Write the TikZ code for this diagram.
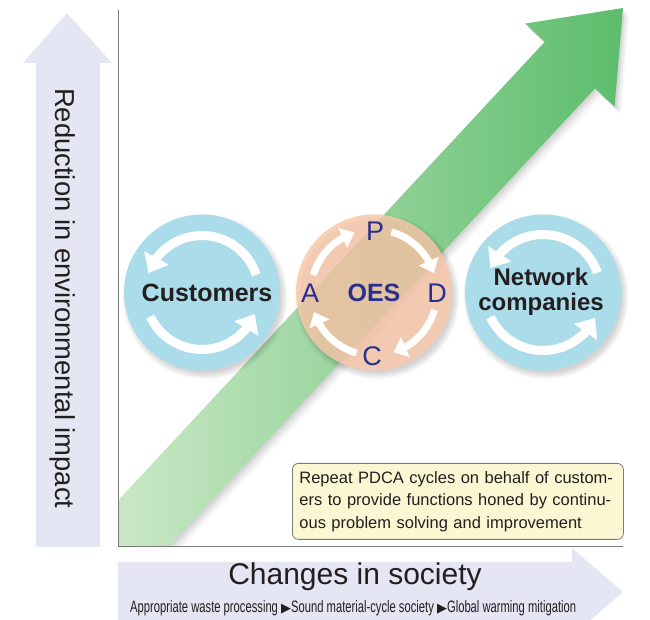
\documentclass[tikz,border=0pt]{standalone}
\usepackage{fontspec}
\usepackage{graphicx}
\setmainfont{Liberation Sans}
\newfontfamily\symfont{DejaVu Sans}
\usetikzlibrary{arrows.meta,bending,calc}
\definecolor{lav}{HTML}{E5E6F4}
\definecolor{cblue}{HTML}{ABDCE9}
\definecolor{peach}{HTML}{F9C9AA}
\definecolor{gdark}{HTML}{5CBD6C}
\definecolor{gmid}{HTML}{92D290}
\definecolor{glight}{HTML}{D8EDD2}
\definecolor{dblue}{HTML}{2B2E8C}
\definecolor{txt}{HTML}{231F20}
\definecolor{boxfill}{HTML}{FBF7D3}
\definecolor{axisgray}{HTML}{7A7A7A}
\begin{document}
\begin{tikzpicture}[x=1pt,y=1pt,
  bigcirc/.style={circle, minimum size=156pt, inner sep=0pt},
  cyc/.style={white, line width=9pt, -{Triangle[width=27pt,length=17pt]}},
  pdca/.style={white, line width=7pt, -{Triangle[width=21pt,length=13pt]}},
  letter/.style={text=dblue, font=\fontsize{27}{27}\selectfont, inner sep=0pt},
  boldlbl/.style={text=txt, font=\bfseries\fontsize{25}{25}\selectfont, inner sep=0pt},
]
\useasboundingbox (0,0) rectangle (650,620);

% vertical axis arrow
\fill[lav] (36,73) -- (36,557) -- (23,557) -- (67,607) -- (112,557) -- (100,557) -- (100,73) -- cycle;
\node[rotate=-90, anchor=base west, font=\fontsize{27.4}{30}\selectfont, text=txt, inner sep=0pt] (ylabel) at (55,532) {Reduction in environmental impact};

% horizontal axis arrow
\begin{scope}
\clip (0,0) rectangle (650,620);
\fill[lav] (118,58) -- (572,58) -- (572,72) -- (623,28) -- (572,-16) -- (572,-2) -- (118,-2) -- cycle;
\end{scope}
\node[anchor=base, font=\fontsize{30}{31}\selectfont, text=txt, inner sep=0pt] (xlabel) at (355,35) {Changes in society};
\node[anchor=base west, inner sep=0pt, text=txt, font=\fontsize{16.5}{16.5}\selectfont] (xsub) at (130,7)
  {\scalebox{0.68}[1]{Appropriate waste processing }{\symfont\fontsize{13}{13}\selectfont ▶}\scalebox{0.68}[1]{Sound material-cycle society }{\symfont\fontsize{13}{13}\selectfont ▶}\scalebox{0.68}[1]{Global warming mitigation}};

% green arrow
\begin{scope}
\clip (119,74) rectangle (650,620);
\foreach \o/\a in {2/0.06, 4/0.05, 6/0.04, 8/0.03}{
  \fill[black, opacity=\a] ($(54.5,51.2)+(\o*0.8,-\o)$) -- ($(544.8,578.2)+(\o*0.8,-\o)$) -- ($(525.2,596.4)+(\o*0.8,-\o)$) -- ($(623,612)+(\o*0.8,-\o)$) -- ($(614.6,513.4)+(\o*0.8,-\o)$) -- ($(595.0,531.6)+(\o*0.8,-\o)$) -- ($(104.7,4.6)+(\o*0.8,-\o)$) -- cycle;
}
\shade[left color=glight, middle color=gmid, right color=gdark]
  (54.5,51.2) -- (544.8,578.2) -- (525.2,596.4) -- (623,612) -- (614.6,513.4) -- (595.0,531.6) -- (104.7,4.6) -- cycle;
\end{scope}

% axes lines
\draw[axisgray, line width=1pt] (118,610) -- (118,73.5) -- (623,73.5);

% circle centres
\coordinate (cc) at (202,327.5);
\coordinate (oc) at (374,327.5);
\coordinate (nc) at (543,327.5);

% shadows
\foreach \p in {cc,oc,nc}{
  \foreach \k in {0,...,5}{
    \fill[black, opacity=0.03] ($(\p)+(3,-4)$) circle (76+\k*1.3);
  }
}

% Customers
\node[bigcirc, fill=cblue] (cust) at (cc) {};
\draw[cyc] ([shift={(18:57)}]cust.center) arc[start angle=18, end angle=160, radius=57];
\draw[cyc] ([shift={(205:57)}]cust.center) arc[start angle=205, end angle=338, radius=57];
\node[boldlbl] (custt) at (207,327) {Customers};

% OES
\node[bigcirc, fill=peach, fill opacity=0.82] (oes) at (oc) {};
\draw[pdca] ([shift={(74:63)}]oes.center) arc[start angle=74, end angle=18, radius=63];
\draw[pdca] ([shift={(-16:63)}]oes.center) arc[start angle=-16, end angle=-72, radius=63];
\draw[pdca] ([shift={(254:63)}]oes.center) arc[start angle=254, end angle=198, radius=63];
\draw[pdca] ([shift={(164:63)}]oes.center) arc[start angle=164, end angle=108, radius=63];
\node[letter] (P) at (375,389) {P};
\node[letter] (D) at (437,327) {D};
\node[letter] (C) at (372,264) {C};
\node[letter] (A) at (310,327) {A};
\node[text=dblue, font=\bfseries\fontsize{25}{25}\selectfont, inner sep=0pt] (oest) at (374,327) {OES};

% Network companies
\node[bigcirc, fill=cblue] (net) at (nc) {};
\draw[cyc] ([shift={(20:58)}]net.center) arc[start angle=20, end angle=155, radius=58];
\draw[cyc] ([shift={(205:58)}]net.center) arc[start angle=205, end angle=334, radius=58];
\node[text=txt, font=\bfseries\fontsize{24}{25}\selectfont, inner sep=0pt, align=center] (nett) at (541,328) {Network\\companies};

% note box
\node[draw=axisgray, line width=0.8pt, fill=boxfill, rounded corners=6pt, minimum height=76pt,
  anchor=north west, align=left, text width=317pt, inner xsep=7pt, inner ysep=0pt, text=txt,
  font=\fontsize{16.5}{22.5}\selectfont] (note) at (292,157)
  {Repeat PDCA cycles on behalf of custom-\\ers to provide functions honed by continu-\\ous problem solving and improvement};
\end{tikzpicture}
\end{document}
